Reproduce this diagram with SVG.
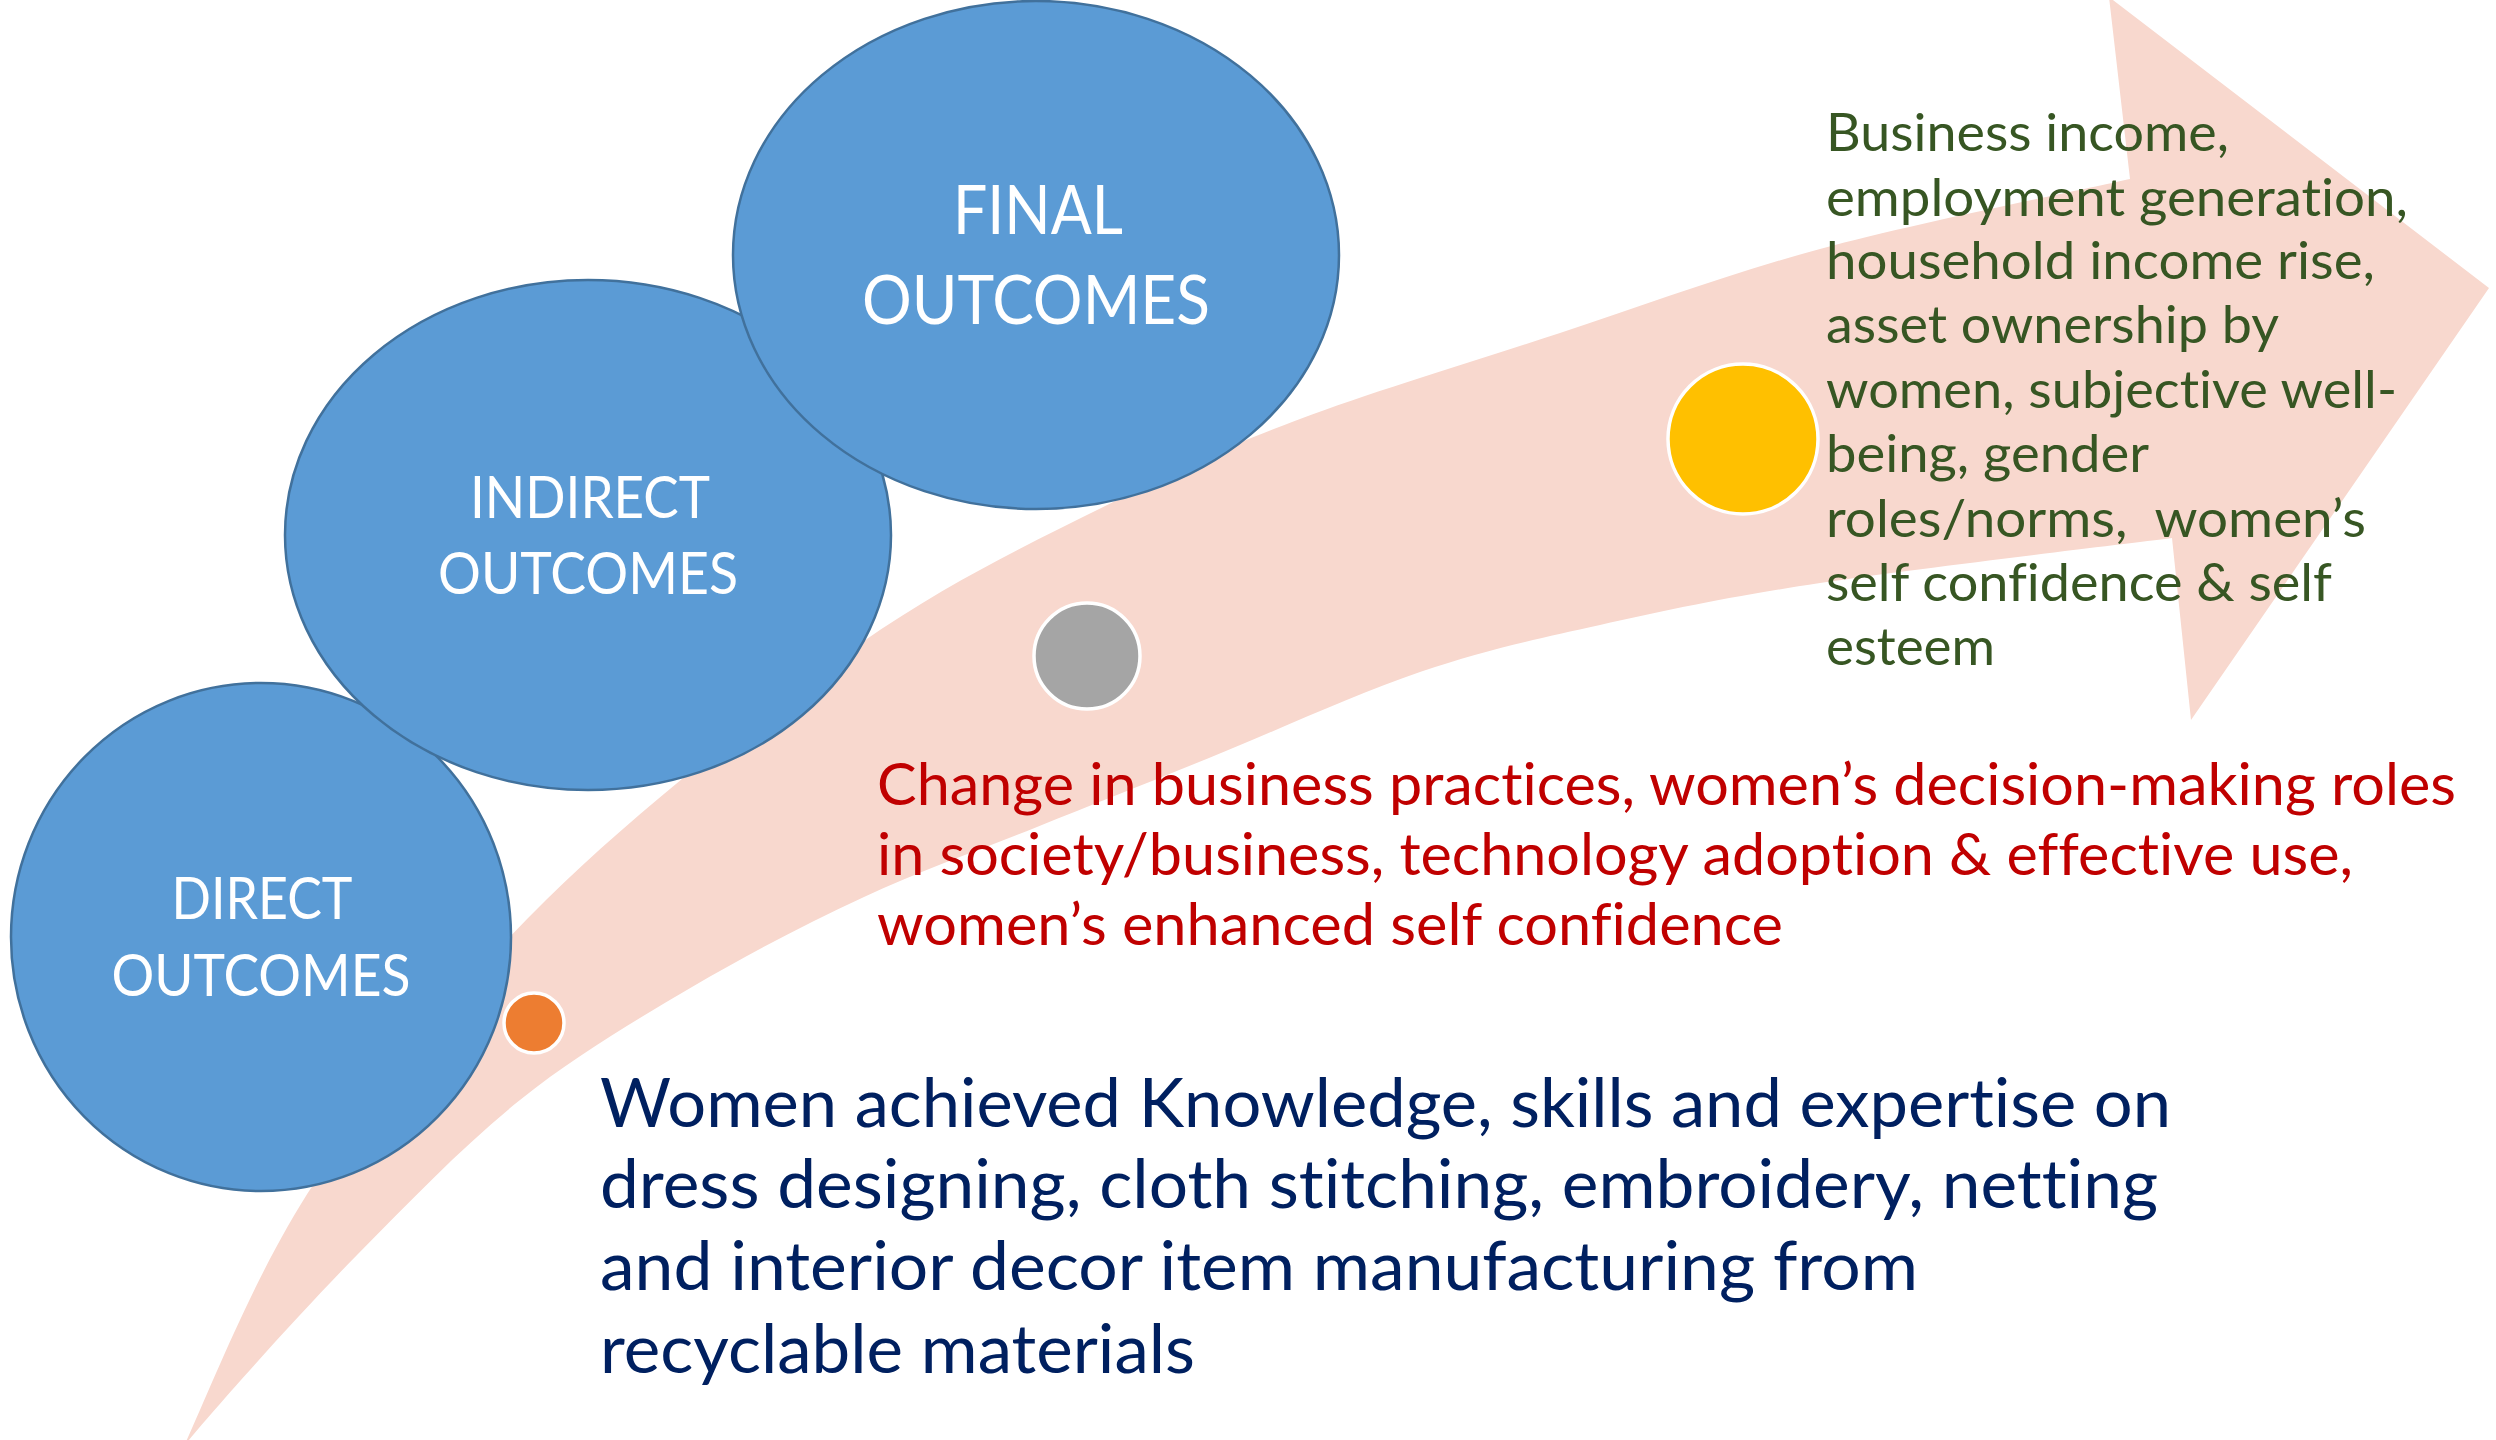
<svg xmlns="http://www.w3.org/2000/svg" width="2496" height="1440" viewBox="0 0 2496 1440">
<style>
.bg{fill:#ffffff}
.arrow{fill:#F8D8CE;stroke:none}
.big{fill:#5B9BD5;stroke:#41719C;stroke-width:2.5}
.dot{stroke:#ffffff;stroke-width:3.5}
.lbl{font-family:Lato,'Liberation Sans',sans-serif;fill:#ffffff;text-anchor:middle;font-variant-ligatures:none}
.t{font-family:Lato,'Liberation Sans',sans-serif;font-variant-ligatures:none}
.navy{fill:#002060;font-size:67px}
.red{fill:#C00000;font-size:58px}
.green{fill:#375623;font-size:53px}
</style>
<rect class="bg" x="0" y="0" width="2496" height="1440"/>
<g id="connectors">
<path id="curved-arrow" class="arrow" d="M184,1446
C207.5,1396.2 255,1271.8 315,1182
C375,1092.2 455,989.8 546,900
C637,810.2 765.2,710 861,643
C956.8,576 1047.8,535.3 1121,498
C1194.2,460.7 1226.8,446.5 1300,419
C1373.2,391.5 1473.3,361.3 1560,333
C1646.7,304.7 1725,274.7 1820,249
C1915,223.3 2078.3,190.7 2130,179
L2109,-3 L2489,288 L2191,720 L2172,538
C2113.3,545.5 1915.3,568.5 1820,583
C1724.7,597.5 1666.7,610.2 1600,625
C1533.3,639.8 1485.2,649.8 1420,672
C1354.8,694.2 1272.8,732.2 1209,758
C1145.2,783.8 1094.5,803.8 1037,827
C979.5,850.2 921.5,870.3 864,897
C806.5,923.7 749.3,953.2 692,987
C634.7,1020.8 575.8,1055.3 520,1100
C464.2,1144.7 412.7,1198.5 357,1255
C301.3,1311.5 214.5,1408.3 184,1446 Z"/>
</g>
<g id="node-direct">
<ellipse class="big" cx="261" cy="937" rx="250" ry="254"/>
<text class="lbl" font-size="58" x="262" y="919" textLength="181" lengthAdjust="spacingAndGlyphs">DIRECT</text>
<text class="lbl" font-size="58" x="261" y="996" textLength="299" lengthAdjust="spacingAndGlyphs">OUTCOMES</text>
</g>
<g id="node-indirect">
<ellipse class="big" cx="588" cy="535" rx="303" ry="255"/>
<text class="lbl" font-size="58" x="590" y="518" textLength="240" lengthAdjust="spacingAndGlyphs">INDIRECT</text>
<text class="lbl" font-size="58" x="588" y="594" textLength="300" lengthAdjust="spacingAndGlyphs">OUTCOMES</text>
</g>
<g id="node-final">
<ellipse class="big" cx="1036" cy="255" rx="303" ry="254"/>
<text class="lbl" font-size="67" x="1038" y="234" textLength="170" lengthAdjust="spacingAndGlyphs">FINAL</text>
<text class="lbl" font-size="67" x="1036" y="324" textLength="348" lengthAdjust="spacingAndGlyphs">OUTCOMES</text>
</g>
<g id="node-dot-direct">
<circle class="dot" cx="534" cy="1023" r="30" fill="#ED7D31"/>
</g>
<g id="node-dot-indirect">
<circle class="dot" cx="1087" cy="656" r="53" fill="#A5A5A5"/>
</g>
<g id="node-dot-final">
<circle class="dot" cx="1743" cy="439" r="75" fill="#FFC000"/>
</g>
<g id="node-direct-text">
<text class="t navy" x="600" y="1127" textLength="1571" lengthAdjust="spacingAndGlyphs">Women achieved Knowledge, skills and expertise on</text>
<text class="t navy" x="600" y="1208" textLength="1558" lengthAdjust="spacingAndGlyphs">dress designing, cloth stitching, embroidery, netting</text>
<text class="t navy" x="600" y="1290" textLength="1318" lengthAdjust="spacingAndGlyphs">and interior decor item manufacturing from</text>
<text class="t navy" x="600" y="1373" textLength="595" lengthAdjust="spacingAndGlyphs">recyclable materials</text>
</g>
<g id="node-indirect-text">
<text class="t red" x="877" y="805" textLength="1579" lengthAdjust="spacingAndGlyphs">Change in business practices, women’s decision-making roles</text>
<text class="t red" x="877" y="875" textLength="1476" lengthAdjust="spacingAndGlyphs">in society/business, technology adoption &amp; effective use,</text>
<text class="t red" x="877" y="945" textLength="906" lengthAdjust="spacingAndGlyphs">women’s enhanced self confidence</text>
</g>
<g id="node-final-text">
<text class="t green" x="1826" y="151" textLength="403" lengthAdjust="spacingAndGlyphs">Business income,</text>
<text class="t green" x="1826" y="216" textLength="582" lengthAdjust="spacingAndGlyphs">employment generation,</text>
<text class="t green" x="1826" y="279" textLength="549" lengthAdjust="spacingAndGlyphs">household income rise,</text>
<text class="t green" x="1826" y="343" textLength="453" lengthAdjust="spacingAndGlyphs">asset ownership by</text>
<text class="t green" x="1826" y="408" textLength="571" lengthAdjust="spacingAndGlyphs">women, subjective well-</text>
<text class="t green" x="1826" y="472" textLength="323" lengthAdjust="spacingAndGlyphs">being, gender</text>
<text class="t green" x="1826" y="537" textLength="540" lengthAdjust="spacingAndGlyphs" xml:space="preserve">roles/norms,  women’s</text>
<text class="t green" x="1826" y="601" textLength="506" lengthAdjust="spacingAndGlyphs">self confidence &amp; self</text>
<text class="t green" x="1826" y="665" textLength="169" lengthAdjust="spacingAndGlyphs">esteem</text>
</g>
</svg>
